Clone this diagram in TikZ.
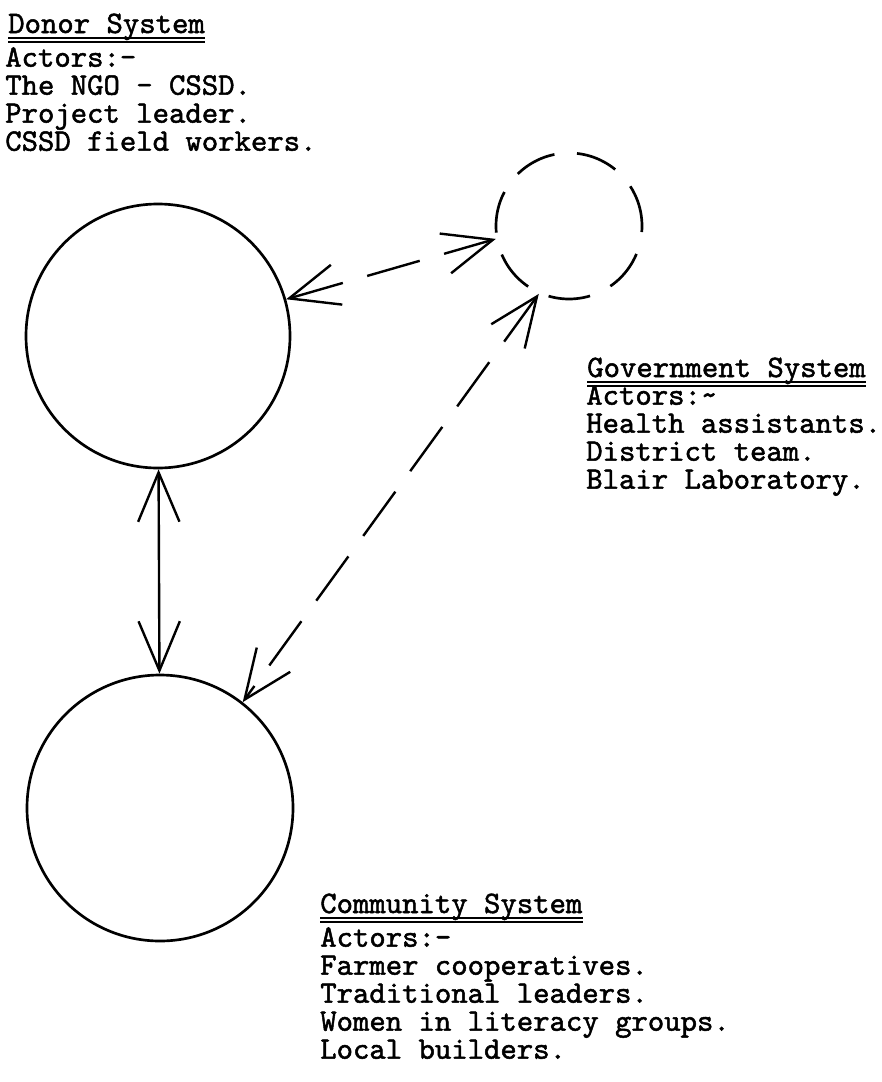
\documentclass[tikz,border=0pt]{standalone}
\usepackage{fontspec}
\newfontfamily\typer{lmmono10-regular.otf}[FakeBold=1.6]
\usetikzlibrary{arrows.meta}

\begin{document}
\begin{tikzpicture}[x=0.75pt,y=-0.75pt,
  sys/.style={draw=black,circle,line width=2pt,inner sep=0pt},
  link/.style={line width=1.8pt,{Straight Barb[length=37pt,width=31pt]}-{Straight Barb[length=37pt,width=31pt]}},
  gap/.style={dash pattern=on 41pt off 19pt},
  head/.style={font=\fontsize{23.4}{21}\selectfont\typer,inner sep=0pt,anchor=base west},
  actors/.style={font=\fontsize{23.4}{21}\selectfont\typer,inner sep=0pt,anchor=north west,align=left},
  uline/.style={line width=1.5pt}]
  \useasboundingbox (0,0) rectangle (882,1082);

  \node[sys,minimum size=198pt] (donor) at (158,336) {};
  \node[sys,minimum size=109.5pt,dash pattern=on 31.5pt off 17pt] (gov) at (569,226) {};
  \node[sys,minimum size=199.5pt] (comm) at (160,808) {};

  \draw[link] (donor) -- (comm);
  \draw[link,gap] (donor.16) -- (gov.190);
  \draw[link,gap] (gov.246) -- (comm.52);

  \node[head] (dhead) at (8,33) {Donor System};
  \node[actors] (dlist) at (5,47) {Actors:-\\The NGO - CSSD.\\Project leader.\\CSSD field workers.};
  \node[head] (ghead) at (587,377) {Government System};
  \node[actors] (glist) at (586,385) {Actors:\textasciitilde\\Health assistants.\\District team.\\Blair Laboratory.};
  \node[head] (chead) at (320,913) {Community System};
  \node[actors] (clist) at (320,927) {Actors:-\\Farmer cooperatives.\\Traditional leaders.\\Women in literacy groups.\\Local builders.};

  \draw[uline] ([yshift=-4pt]dhead.base west) -- ([yshift=-4pt]dhead.base east);
  \draw[uline] ([yshift=-7pt]dhead.base west) -- ([yshift=-7pt]dhead.base east);
  \draw[uline] ([yshift=-4pt]ghead.base west) -- ([yshift=-4pt]ghead.base east);
  \draw[uline] ([yshift=-7pt]ghead.base west) -- ([yshift=-7pt]ghead.base east);
  \draw[uline] ([yshift=-4pt]chead.base west) -- ([yshift=-4pt]chead.base east);
  \draw[uline] ([yshift=-7pt]chead.base west) -- ([yshift=-7pt]chead.base east);
\end{tikzpicture}
\end{document}
